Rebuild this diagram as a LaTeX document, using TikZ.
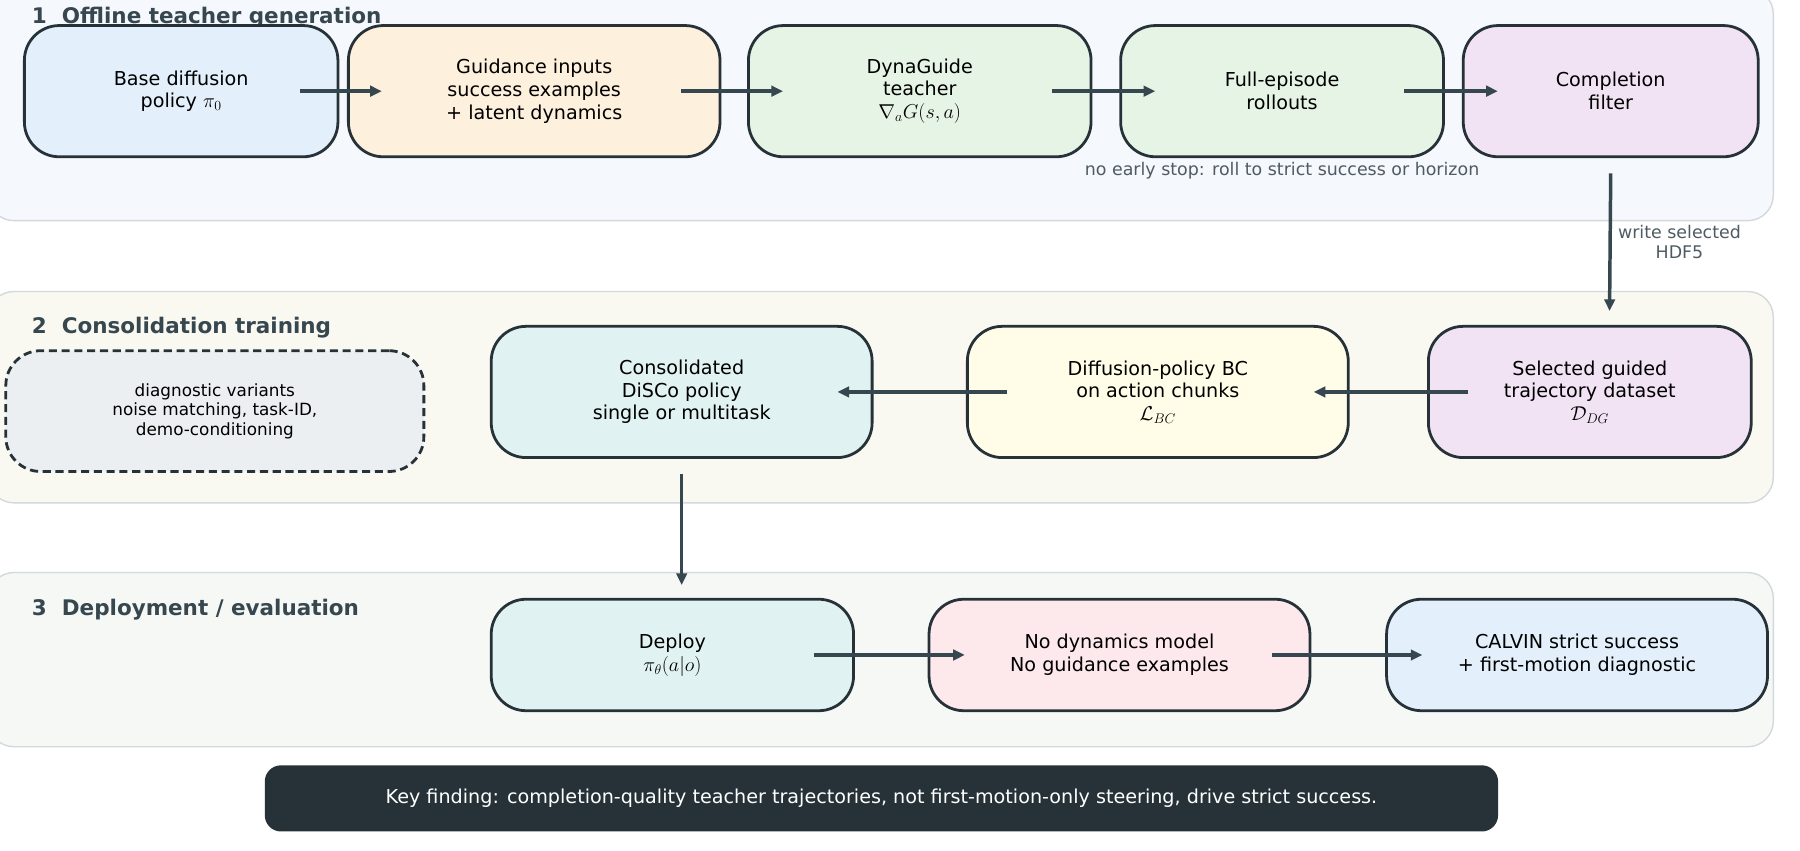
\documentclass[tikz,border=0pt]{standalone}
\usepackage{fontspec}
\setmainfont{DejaVu Sans}
\usetikzlibrary{arrows.meta, positioning}
\definecolor{inkdark}{HTML}{263238}
\definecolor{arrowgray}{HTML}{37474F}
\definecolor{notegray}{HTML}{4F5B62}
\definecolor{panelline}{HTML}{D3D8DC}
\definecolor{paneloffline}{HTML}{F5F8FD}
\definecolor{panelconsol}{HTML}{F9F9F1}
\definecolor{paneldeploy}{HTML}{F6F8F5}
\definecolor{fillblue}{HTML}{E3F0FB}
\definecolor{fillorange}{HTML}{FDF0DC}
\definecolor{fillgreen}{HTML}{E6F4E6}
\definecolor{fillpurple}{HTML}{F1E3F4}
\definecolor{fillgray}{HTML}{ECEFF1}
\definecolor{fillteal}{HTML}{E0F2F1}
\definecolor{fillyellow}{HTML}{FFFDE7}
\definecolor{fillpink}{HTML}{FDE8EC}
\tikzset{stagebox/.style={draw=inkdark, line width=2.4pt, rounded corners=30pt, align=center, inner sep=0pt, font=\fontsize{16.5}{19.5}\selectfont},
panelbox/.style={draw=panelline, line width=1.2pt, rounded corners=22pt},
flowarrow/.style={-{Triangle[length=10pt,width=9pt]}, draw=arrowgray, line width=3pt},
paneltitle/.style={anchor=west, font=\fontsize{18.5}{22}\selectfont\bfseries, text=arrowgray},
notetext/.style={text=notegray, align=center, font=\fontsize{15}{17}\selectfont}}
\begin{document}
\begin{tikzpicture}[x=1pt, y=-1pt]
                \useasboundingbox (0,0) rectangle (1550,732);

                % Panels
                \draw[panelbox, fill=paneloffline] (-10,-10) rectangle (1527,190);
                \draw[panelbox, fill=panelconsol] (-10,251) rectangle (1527,433);
                \draw[panelbox, fill=paneldeploy] (-10,493) rectangle (1527,643);
                \node[paneltitle] (titleoffline) at (24,15) {1\ \ Offline teacher generation};
                \node[paneltitle] (titleconsol) at (24,282) {2\ \ Consolidation training};
                \node[paneltitle] (titledeploy) at (24,525) {3\ \ Deployment / evaluation};

                % Stage 1
                \node[stagebox, fill=fillblue, minimum width=270pt, minimum height=113pt] (base) at (156,78.5) {Base diffusion\\policy $\pi_0$};
                \node[stagebox, fill=fillorange, minimum width=320pt, minimum height=113pt] (guide) at (460,78.5) {Guidance inputs\\success examples\\+ latent dynamics};
                \node[stagebox, fill=fillgreen, minimum width=295pt, minimum height=113pt] (teacher) at (792,78.5) {DynaGuide\\teacher\\$\nabla_a G(s,a)$};
                \node[stagebox, fill=fillgreen, minimum width=278pt, minimum height=113pt] (rollout) at (1104,78.5) {Full-episode\\rollouts};
                \node[stagebox, fill=fillpurple, minimum width=254pt, minimum height=113pt] (filter) at (1387,78.5) {Completion\\filter};
                \node[notetext] (earlystop) at (1104,147) {no early stop: roll to strict success or horizon};

                % Stage 2
                \node[stagebox, fill=fillgray, dash pattern=on 7pt off 4pt, minimum width=360pt, minimum height=104pt, font=\fontsize{14.5}{17}\selectfont] (variants) at (185,354) {diagnostic variants\\noise matching, task-ID,\\demo-conditioning};
                \node[stagebox, fill=fillteal, minimum width=328pt, minimum height=113pt] (disco) at (587,337.5) {Consolidated\\DiSCo policy\\single or multitask};
                \node[stagebox, fill=fillyellow, minimum width=328pt, minimum height=113pt] (bc) at (997,337.5) {Diffusion-policy BC\\on action chunks\\$\mathcal{L}_{BC}$};
                \node[stagebox, fill=fillpurple, minimum width=278pt, minimum height=113pt] (dataset) at (1369,337.5) {Selected guided\\trajectory dataset\\$\mathcal{D}_{DG}$};

                % Stage 3
                \node[stagebox, fill=fillteal, minimum width=312pt, minimum height=96pt] (deploy) at (579,564) {Deploy\\$\pi_\theta(a|o)$};
                \node[stagebox, fill=fillpink, minimum width=328pt, minimum height=96pt] (nomodel) at (964,564) {No dynamics model\\No guidance examples};
                \node[stagebox, fill=fillblue, minimum width=328pt, minimum height=96pt] (calvin) at (1358,564) {CALVIN strict success\\+ first-motion diagnostic};

                % Arrows
                \draw[flowarrow] ([xshift=-34pt]base.east) -- ([xshift=30pt]guide.west);
                \draw[flowarrow] ([xshift=-35pt]guide.east) -- ([xshift=31pt]teacher.west);
                \draw[flowarrow] ([xshift=-35pt]teacher.east) -- ([xshift=31pt]rollout.west);
                \draw[flowarrow] ([xshift=-35pt]rollout.east) -- ([xshift=31pt]filter.west);
                \draw[flowarrow] ([yshift=-13pt]filter.south) -- ([xshift=17pt, yshift=12pt]dataset.north) node[notetext, midway, right=2pt] {write selected\\HDF5};
                \draw[flowarrow] ([xshift=35pt]dataset.west) -- ([xshift=-31pt]bc.east);
                \draw[flowarrow] ([xshift=35pt]bc.west) -- ([xshift=-31pt]disco.east);
                \draw[flowarrow] ([yshift=-13pt]disco.south) -- ([xshift=8pt, yshift=11pt]deploy.north);
                \draw[flowarrow] ([xshift=-35pt]deploy.east) -- ([xshift=32pt]nomodel.west);
                \draw[flowarrow] ([xshift=-34pt]nomodel.east) -- ([xshift=32pt]calvin.west);

                % Key finding
                \node[fill=inkdark, rounded corners=14pt, minimum width=1062pt, minimum height=57pt, text=white, font=\fontsize{16.5}{19.5}\selectfont] (finding) at (759,687.5) {Key finding: completion-quality teacher trajectories, not first-motion-only steering, drive strict success.};
\end{tikzpicture}
\end{document}
